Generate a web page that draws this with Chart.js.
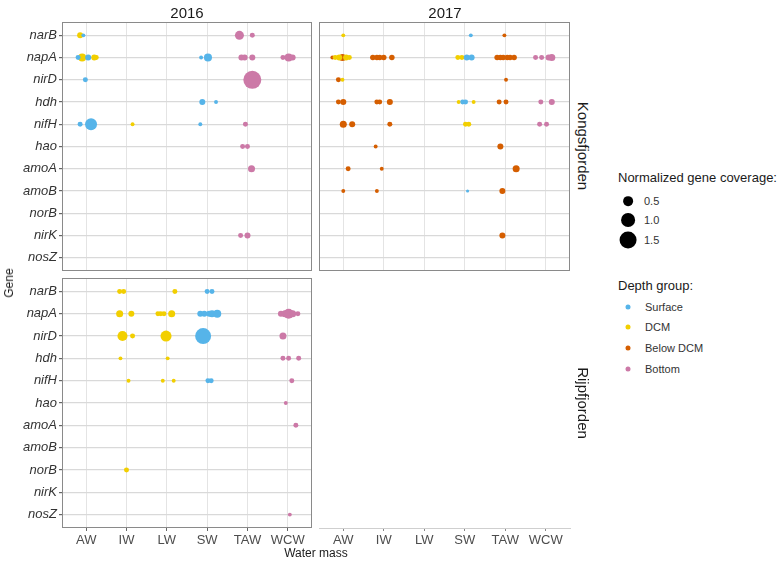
<!DOCTYPE html>
<html>
<head>
<meta charset="utf-8">
<script src="https://cdn.jsdelivr.net/npm/chart.js@4.4.1/dist/chart.umd.min.js"></script>
<style>
    body { margin: 0; background: #fff; font-family: 'Liberation Sans', Arial, sans-serif; }
    #wrap { position: relative; width: 778px; height: 561px; overflow: hidden; }
    #wrap canvas { position: absolute; }
    .txt { position: absolute; white-space: nowrap; color: #1a1a1a; }
    .key { position: absolute; border-radius: 50%; transform: translate(-50%, -50%); }
</style>
</head>
<body>
<div id="wrap">
    <canvas id="k16" width="313" height="272" style="left:0;top:0"></canvas>
    <canvas id="k17" width="252" height="272" style="left:319px;top:0"></canvas>
    <canvas id="r16" width="313" height="291" style="left:0;top:270px"></canvas>
    <canvas id="r17" width="252" height="291" style="left:319px;top:270px"></canvas>
    <div id="labels"></div>
</div>
<script>
// categories
const waterMasses = ['AW', 'IW', 'LW', 'SW', 'TAW', 'WCW'];
const genes = ['narB', 'napA', 'nirD', 'hdh', 'nifH', 'hao', 'amoA', 'amoB', 'norB', 'nirK', 'nosZ'];
const depthGroups = ['Surface', 'DCM', 'Below DCM', 'Bottom'];
const sizeBreaks = [0.5, 1.0, 1.5];

// [gene, water mass, jitter, normalized coverage]
const k16Surface = [
    ['narB', 'AW', -0.07, 0.08], ['napA', 'AW', -0.2, 0.13], ['napA', 'AW', 0.05, 0.19],
    ['napA', 'SW', -0.15, 0.08], ['napA', 'SW', 0.02, 0.34], ['nirD', 'AW', -0.02, 0.13],
    ['hdh', 'SW', -0.12, 0.19], ['hdh', 'SW', 0.22, 0.08], ['nifH', 'AW', -0.15, 0.13],
    ['nifH', 'AW', 0.12, 0.76], ['nifH', 'SW', -0.17, 0.08]
];
const k16DCM = [
    ['narB', 'AW', -0.15, 0.19], ['napA', 'AW', -0.1, 0.34], ['napA', 'AW', 0.2, 0.19],
    ['napA', 'AW', 0.25, 0.13], ['nifH', 'IW', 0.15, 0.08]
];
const k16Below = [];
const k16Bottom = [
    ['narB', 'TAW', -0.2, 0.43], ['narB', 'TAW', 0.12, 0.13], ['napA', 'TAW', -0.15, 0.19],
    ['napA', 'TAW', -0.07, 0.19], ['napA', 'TAW', 0.12, 0.19], ['napA', 'WCW', -0.12, 0.13],
    ['napA', 'WCW', 0.02, 0.34], ['napA', 'WCW', 0.12, 0.19], ['nirD', 'TAW', 0.12, 1.7],
    ['nifH', 'TAW', -0.05, 0.13], ['hao', 'TAW', -0.12, 0.13], ['hao', 'TAW', 0, 0.13],
    ['amoA', 'TAW', 0.1, 0.26], ['nirK', 'TAW', -0.17, 0.13], ['nirK', 'TAW', 0, 0.19]
];

const k17Surface = [
    ['narB', 'SW', 0.15, 0.08], ['napA', 'SW', 0.05, 0.19], ['napA', 'SW', 0.17, 0.19],
    ['hdh', 'SW', -0.05, 0.13], ['hdh', 'SW', 0.02, 0.13], ['amoB', 'SW', 0.07, 0.05]
];
const k17DCM = [
    ['narB', 'AW', 0, 0.08], ['napA', 'AW', -0.2, 0.13], ['napA', 'AW', -0.1, 0.19],
    ['napA', 'AW', 0.07, 0.19], ['napA', 'AW', 0.15, 0.13], ['napA', 'SW', -0.17, 0.13],
    ['napA', 'SW', -0.07, 0.13], ['nirD', 'AW', -0.02, 0.08], ['hdh', 'SW', -0.15, 0.08],
    ['hdh', 'SW', 0.22, 0.08], ['nifH', 'SW', 0.02, 0.13], ['nifH', 'SW', 0.1, 0.13]
];
const k17Below = [
    ['narB', 'TAW', -0.02, 0.08], ['napA', 'AW', -0.27, 0.08], ['napA', 'AW', -0.02, 0.26],
    ['napA', 'IW', -0.27, 0.16], ['napA', 'IW', -0.17, 0.16], ['napA', 'IW', -0.1, 0.16],
    ['napA', 'IW', 0, 0.16], ['napA', 'IW', 0.2, 0.16], ['napA', 'TAW', -0.2, 0.16],
    ['napA', 'TAW', -0.12, 0.16], ['napA', 'TAW', -0.05, 0.16], ['napA', 'TAW', 0.05, 0.16],
    ['napA', 'TAW', 0.12, 0.16], ['napA', 'TAW', 0.22, 0.16], ['nirD', 'AW', -0.12, 0.13],
    ['nirD', 'TAW', 0.02, 0.08], ['hdh', 'AW', -0.12, 0.13], ['hdh', 'AW', 0, 0.19],
    ['hdh', 'IW', -0.17, 0.13], ['hdh', 'IW', -0.1, 0.13], ['hdh', 'IW', 0.15, 0.19],
    ['hdh', 'TAW', -0.15, 0.13], ['hdh', 'TAW', 0.02, 0.13], ['nifH', 'AW', 0, 0.26],
    ['nifH', 'AW', 0.22, 0.19], ['nifH', 'IW', 0.15, 0.13], ['hao', 'IW', -0.2, 0.08],
    ['hao', 'TAW', -0.12, 0.19], ['amoA', 'AW', 0.12, 0.13], ['amoA', 'IW', -0.05, 0.08],
    ['amoA', 'TAW', 0.27, 0.26], ['amoB', 'AW', 0, 0.08], ['amoB', 'IW', -0.17, 0.08],
    ['amoB', 'TAW', -0.07, 0.19], ['nirK', 'TAW', -0.07, 0.19]
];
const k17Bottom = [
    ['napA', 'WCW', -0.25, 0.13], ['napA', 'WCW', -0.1, 0.13], ['napA', 'WCW', 0.07, 0.19],
    ['napA', 'WCW', 0.15, 0.26], ['hdh', 'WCW', -0.12, 0.13], ['hdh', 'WCW', 0.15, 0.19],
    ['nifH', 'WCW', -0.15, 0.13], ['nifH', 'WCW', 0.02, 0.13]
];

const r16Surface = [
    ['narB', 'SW', 0, 0.13], ['narB', 'SW', 0.12, 0.13], ['napA', 'SW', -0.17, 0.19],
    ['napA', 'SW', -0.07, 0.19], ['napA', 'SW', 0.05, 0.19], ['napA', 'SW', 0.12, 0.26],
    ['napA', 'SW', 0.25, 0.34], ['nirD', 'SW', -0.1, 1.34], ['nifH', 'SW', 0.02, 0.13],
    ['nifH', 'SW', 0.1, 0.13]
];
const r16DCM = [
    ['narB', 'IW', -0.17, 0.13], ['narB', 'IW', -0.07, 0.13], ['narB', 'LW', 0.2, 0.13],
    ['napA', 'IW', -0.17, 0.26], ['napA', 'IW', 0.12, 0.19], ['napA', 'LW', -0.22, 0.13],
    ['napA', 'LW', -0.15, 0.13], ['napA', 'LW', -0.07, 0.13], ['napA', 'LW', 0.12, 0.26],
    ['nirD', 'IW', -0.1, 0.53], ['nirD', 'IW', 0.15, 0.13], ['nirD', 'LW', -0.02, 0.64],
    ['hdh', 'IW', -0.15, 0.08], ['hdh', 'LW', 0.02, 0.08], ['nifH', 'IW', 0.05, 0.08],
    ['nifH', 'LW', -0.1, 0.08], ['nifH', 'LW', 0.17, 0.08], ['norB', 'IW', 0, 0.13]
];
const r16Below = [];
const r16Bottom = [
    ['napA', 'WCW', -0.17, 0.19], ['napA', 'WCW', -0.07, 0.26], ['napA', 'WCW', 0.02, 0.53],
    ['napA', 'WCW', 0.12, 0.26], ['napA', 'WCW', 0.25, 0.13], ['nirD', 'WCW', -0.12, 0.26],
    ['hdh', 'WCW', -0.12, 0.13], ['hdh', 'WCW', 0.02, 0.13], ['hdh', 'WCW', 0.27, 0.13],
    ['nifH', 'WCW', 0.1, 0.13], ['hao', 'WCW', -0.05, 0.08], ['amoA', 'WCW', 0.2, 0.13],
    ['nosZ', 'WCW', 0.05, 0.08]
];

const depthColors = ['#56B4E9', '#F2CF00', '#D55E00', '#CC79A7'];
const font = "'Liberation Sans', Arial, sans-serif";

// area scale: radius grows with sqrt of coverage
function radius(c) {
    return 6.9 * Math.sqrt(c);
}

function makeDatasets(groups) {
    return groups.map((rows, i) => ({
        label: depthGroups[i],
        data: rows.map(([g, w, j, c]) => ({
            x: waterMasses.indexOf(w) + 1 + j,
            y: genes.indexOf(g) + 1,
            r: radius(c)
        })),
        backgroundColor: depthColors[i],
        borderWidth: 0,
        order: i
    }));
}

// panel border
const framePlugin = {
    id: 'frame',
    afterDatasetsDraw(chart, args, opts) {
        if (!opts.show) return;
        const a = chart.chartArea;
        const ctx = chart.ctx;
        ctx.save();
        ctx.strokeStyle = '#8a8a8a';
        ctx.lineWidth = 1;
        ctx.strokeRect(a.left + 0.5, a.top + 0.5, a.right - a.left - 1, a.bottom - a.top - 1);
        ctx.restore();
    }
};

function makeChart(id, groups, opt) {
    const ctx = document.getElementById(id).getContext('2d');
    return new Chart(ctx, {
        type: 'bubble',
        data: { datasets: makeDatasets(groups) },
        plugins: [framePlugin],
        options: {
            responsive: false,
            animation: false,
            devicePixelRatio: 1,
            layout: { padding: opt.padding, autoPadding: false },
            plugins: {
                legend: { display: false },
                tooltip: { enabled: false },
                frame: { show: opt.frame }
            },
            scales: {
                x: {
                    type: 'linear',
                    min: 0.4,
                    max: 6.6,
                    afterBuildTicks: s => { s.ticks = waterMasses.map((_, i) => ({ value: i + 1 })); },
                    afterFit: s => { s.height = opt.xHeight; s.paddingLeft = 0; s.paddingRight = 0; },
                    border: { display: false },
                    grid: {
                        display: true,
                        color: '#e4e4e4',
                        lineWidth: 1,
                        drawTicks: opt.xLabels,
                        tickLength: 3,
                        tickColor: '#666'
                    },
                    ticks: {
                        display: opt.xLabels,
                        padding: 2,
                        maxRotation: 0,
                        autoSkip: false,
                        color: '#4d4d4d',
                        font: { family: font, size: 13 },
                        callback: v => waterMasses[v - 1]
                    }
                },
                y: {
                    type: 'linear',
                    reverse: true,
                    min: 0.4,
                    max: 11.6,
                    afterBuildTicks: s => { s.ticks = genes.map((_, i) => ({ value: i + 1 })); },
                    afterFit: s => { s.width = opt.yWidth; s.paddingTop = 0; s.paddingBottom = 0; },
                    border: { display: false },
                    grid: {
                        color: '#d9d9d9',
                        lineWidth: 1.2,
                        drawTicks: opt.yLabels,
                        tickLength: 3,
                        tickColor: '#666'
                    },
                    ticks: {
                        display: opt.yLabels,
                        padding: 2,
                        autoSkip: false,
                        color: '#333',
                        font: { family: font, size: 13, style: 'italic' },
                        callback: v => genes[v - 1]
                    }
                }
            }
        }
    });
}

makeChart('k16', [k16Surface, k16DCM, k16Below, k16Bottom], {
    padding: { top: 22, right: 1, bottom: 1, left: 0 }, yWidth: 62, xHeight: 0,
    frame: true, xLabels: false, yLabels: true
});
makeChart('k17', [k17Surface, k17DCM, k17Below, k17Bottom], {
    padding: { top: 22, right: 1, bottom: 1, left: 0 }, yWidth: 0, xHeight: 0,
    frame: true, xLabels: false, yLabels: false
});
makeChart('r16', [r16Surface, r16DCM, r16Below, r16Bottom], {
    padding: { top: 8, right: 1, bottom: 0, left: 0 }, yWidth: 62, xHeight: 33,
    frame: true, xLabels: true, yLabels: true
});

// empty 2017 cell for Rijpfjorden: only its bottom axis
new Chart(document.getElementById('r17').getContext('2d'), {
    type: 'bubble',
    data: { datasets: [] },
    options: {
        responsive: false,
        animation: false,
        devicePixelRatio: 1,
        layout: { padding: { top: 8, right: 1, bottom: 0, left: 0 }, autoPadding: false },
        plugins: { legend: { display: false }, tooltip: { enabled: false } },
        scales: {
            x: {
                type: 'linear',
                min: 0.4,
                max: 6.6,
                afterBuildTicks: s => { s.ticks = waterMasses.map((_, i) => ({ value: i + 1 })); },
                afterFit: s => { s.height = 33; s.paddingLeft = 0; s.paddingRight = 0; },
                border: { display: true, color: '#cfcfcf', width: 1 },
                grid: { display: true, drawOnChartArea: false, tickLength: 3, tickColor: '#888' },
                ticks: {
                    padding: 2,
                    maxRotation: 0,
                    autoSkip: false,
                    color: '#4d4d4d',
                    font: { family: font, size: 13 },
                    callback: v => waterMasses[v - 1]
                }
            },
            y: { display: false, min: 0.4, max: 11.6 }
        }
    }
});

// strip labels, axis titles and legends
const labels = document.getElementById('labels');
function addText(text, css) {
    const d = document.createElement('div');
    d.className = 'txt';
    d.textContent = text;
    d.style.cssText += css;
    labels.appendChild(d);
    return d;
}
addText('2016', 'left:187px;top:12px;font-size:15px;transform:translate(-50%,-50%);');
addText('2017', 'left:445px;top:12px;font-size:15px;transform:translate(-50%,-50%);');
addText('Kongsfjorden', 'left:583px;top:146px;font-size:15px;transform:translate(-50%,-50%) rotate(90deg);');
addText('Rijpfjorden', 'left:583px;top:403px;font-size:15px;transform:translate(-50%,-50%) rotate(90deg);');
addText('Gene', 'left:9px;top:283px;font-size:12px;transform:translate(-50%,-50%) rotate(-90deg);');
addText('Water mass', 'left:316px;top:553px;font-size:12px;transform:translate(-50%,-50%);');

addText('Normalized gene coverage:', 'left:618px;top:177px;font-size:13px;transform:translateY(-50%);');
const sizeY = [201, 220, 240];
sizeBreaks.forEach((b, i) => {
    const k = document.createElement('div');
    const d = radius(b) * 2;
    k.className = 'key';
    k.style.cssText += `left:628px;top:${sizeY[i]}px;width:${d}px;height:${d}px;background:#000;`;
    labels.appendChild(k);
    addText(b.toFixed(1), `left:644px;top:${sizeY[i]}px;font-size:11px;color:#333;transform:translateY(-50%);`);
});

addText('Depth group:', 'left:618px;top:285px;font-size:13px;transform:translateY(-50%);');
const depthY = [307, 327, 348, 369];
depthGroups.forEach((g, i) => {
    const k = document.createElement('div');
    k.className = 'key';
    k.style.cssText += `left:628px;top:${depthY[i]}px;width:5px;height:5px;background:${depthColors[i]};`;
    labels.appendChild(k);
    addText(g, `left:645px;top:${depthY[i]}px;font-size:11px;color:#333;transform:translateY(-50%);`);
});
</script>
</body>
</html>
